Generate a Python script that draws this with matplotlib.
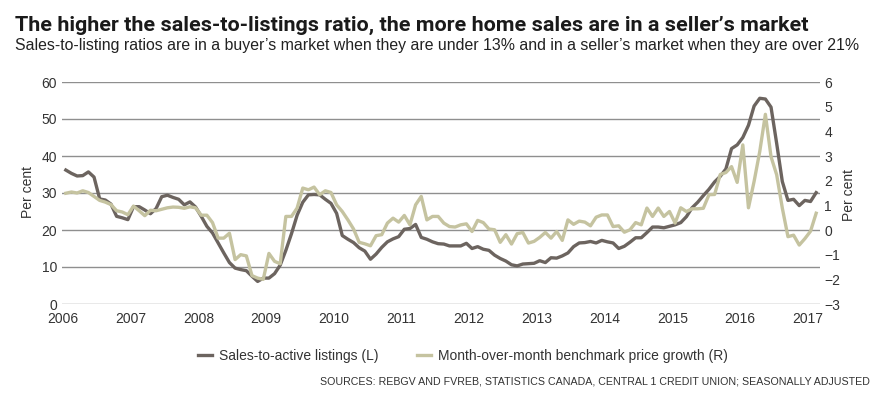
import matplotlib
matplotlib.use("Agg")
import matplotlib.pyplot as plt
import numpy as np

# ---------------- data (monthly, Jan 2006 - Feb 2017) ----------------
sales_ratio = [
    36.2, 35.3, 34.6, 34.7, 35.7, 34.3, 28.4, 28.1, 27.0, 23.7, 23.3, 22.8,   # 2006
    26.3, 26.3, 25.4, 24.4, 25.8, 29.0, 29.4, 28.8, 28.3, 26.8, 27.6, 26.2,   # 2007
    23.7, 21.0, 19.2, 16.5, 13.8, 11.2, 9.7, 9.3, 9.0, 7.5, 6.1, 7.0,         # 2008
    7.0, 8.2, 10.5, 14.5, 19.0, 24.0, 27.5, 29.5, 29.6, 29.5, 28.3, 27.2,     # 2009
    24.5, 18.5, 17.5, 16.6, 15.2, 14.3, 12.1, 13.5, 15.3, 16.8, 17.6, 18.2,   # 2010
    20.2, 20.4, 21.5, 18.0, 17.5, 16.8, 16.3, 16.2, 15.7, 15.7, 15.7, 16.4,   # 2011
    15.0, 15.5, 14.8, 14.5, 13.2, 12.3, 11.6, 10.6, 10.3, 10.8, 10.9, 11.0,   # 2012
    11.7, 11.2, 12.5, 12.4, 13.0, 13.8, 15.5, 16.5, 16.6, 16.9, 16.5, 17.2,   # 2013
    16.8, 16.5, 15.0, 15.6, 16.7, 17.9, 17.9, 19.3, 20.8, 20.8, 20.6, 21.0,   # 2014
    21.4, 22.0, 23.6, 26.0, 27.5, 29.3, 31.0, 33.0, 34.5, 36.5, 42.0, 43.0,   # 2015
    45.0, 48.3, 53.5, 55.6, 55.4, 53.2, 43.4, 33.1, 28.0, 28.3, 26.6, 28.0,   # 2016
    27.7, 30.1,                                                               # 2017
]
price_growth = [
    1.49, 1.54, 1.50, 1.59, 1.52, 1.36, 1.20, 1.13, 1.03, 0.78, 0.73, 0.62,   # 2006
    0.97, 0.78, 0.58, 0.80, 0.78, 0.84, 0.90, 0.93, 0.92, 0.88, 0.94, 0.90,   # 2007
    0.60, 0.60, 0.30, -0.33, -0.33, -0.13, -1.20, -1.00, -1.05, -1.85, -1.95, -2.00,  # 2008
    -0.95, -1.27, -1.37, 0.55, 0.55, 0.89, 1.70, 1.63, 1.74, 1.43, 1.59, 1.52,  # 2009
    1.02, 0.75, 0.41, 0.04, -0.50, -0.56, -0.64, -0.23, -0.19, 0.28, 0.48, 0.32,  # 2010
    0.59, 0.21, 1.02, 1.36, 0.41, 0.55, 0.55, 0.28, 0.14, 0.12, 0.21, 0.25,   # 2011
    -0.06, 0.39, 0.30, 0.04, 0.01, -0.50, -0.19, -0.57, -0.15, -0.10, -0.53, -0.46,  # 2012
    -0.30, -0.10, -0.33, -0.06, -0.42, 0.41, 0.23, 0.36, 0.32, 0.17, 0.52, 0.61,  # 2013
    0.61, 0.14, 0.17, -0.09, 0.01, 0.30, 0.21, 0.89, 0.55, 0.89, 0.55, 0.75,  # 2014
    0.28, 0.90, 0.75, 0.86, 0.86, 0.88, 1.43, 1.44, 2.25, 2.33, 2.57, 1.93,   # 2015
    3.45, 0.90, 1.97, 3.18, 4.69, 2.97, 2.24, 0.89, -0.27, -0.21, -0.61, -0.35,  # 2016
    -0.05, 0.68,                                                              # 2017
]
start_year = 2006
year_ticks = list(range(2006, 2018))
left_ticks = [0, 10, 20, 30, 40, 50, 60]
right_ticks = [-3, -2, -1, 0, 1, 2, 3, 4, 5, 6]
series_labels = ["Sales-to-active listings (L)", "Month-over-month benchmark price growth (R)"]
title = "The higher the sales-to-listings ratio, the more home sales are in a seller\u2019s market"
subtitle = ("Sales-to-listing ratios are in a buyer\u2019s market when they are under 13% "
            "and in a seller\u2019s market when they are over 21%")
source = "SOURCES: REBGV AND FVREB, STATISTICS CANADA, CENTRAL 1 CREDIT UNION; SEASONALLY ADJUSTED"
axis_label = "Per cent"

# ---------------- style ----------------
DARK = "#6c645f"
GREEN = "#c5c3a0"
GRID = "#8f8f8f"
TXT = "#333333"
NARROW = ["Liberation Sans Narrow", "Liberation Sans", "DejaVu Sans"]
REG = ["Liberation Sans", "DejaVu Sans"]
TITLEF = ["Roboto", "Liberation Sans", "DejaVu Sans"]
plt.rcParams["font.family"] = REG

W, H = 886, 399
fig = plt.figure(figsize=(W / 100, H / 100), dpi=100)
fx = lambda px: px / W
fy = lambda py: 1 - py / H

ax = fig.add_axes([fx(62), fy(304), fx(820) - fx(62), fy(82) - fy(304)])
ax2 = ax.twinx()

n = len(sales_ratio)
x = start_year + (np.arange(n) + 0.5) / 12.0

l1, = ax.plot(x, sales_ratio, color=DARK, lw=2.4, solid_joinstyle="round", label=series_labels[0])
l2, = ax2.plot(x, price_growth, color=GREEN, lw=2.4, solid_joinstyle="round", label=series_labels[1])

ax.set_xlim(2006 - 1 / 67.7, 2006 + (820 - 63) / 67.7)
ax.set_ylim(0, 60)
ax2.set_ylim(-3, 6)
ax.set_xticks(year_ticks)
ax.set_yticks(left_ticks)
ax2.set_yticks(right_ticks)
ax.yaxis.grid(True, color=GRID, lw=1.0)
ax.set_axisbelow(True)
for a in (ax, ax2):
    for s in a.spines.values():
        s.set_visible(False)
ax.tick_params(axis="both", length=0, labelsize=10, labelcolor=TXT)
ax.tick_params(axis="y", pad=3.5)
ax.tick_params(axis="x", pad=6)
ax2.tick_params(axis="y", length=0, labelsize=10, labelcolor=TXT, pad=3)

fig.text(fx(28), fy(192), axis_label, rotation=90, ha="center", va="center",
         fontsize=10, color=TXT)
fig.text(fx(849), fy(195), axis_label, rotation=90, ha="center", va="center",
         fontsize=10, color=TXT)

t_title = fig.text(fx(15), fy(31), title, ha="left", va="baseline", fontsize=12.5,
                   fontweight="bold", color="#1a1a1a", family=TITLEF)
t_sub = fig.text(fx(15), fy(50), subtitle, ha="left", va="baseline", fontsize=12,
                 color="#222222", family=NARROW)
t_src = fig.text(fx(870), fy(382), source, ha="right", va="center", fontsize=8,
                 color=TXT, family=NARROW)

renderer = fig.canvas.get_renderer()


def fit(t, target):
    for _ in range(2):
        w = t.get_window_extent(renderer).width
        t.set_fontsize(t.get_fontsize() * target / w)


fit(t_title, 793)
fit(t_sub, 840)
fit(t_src, 544)


def make_legend(fs):
    return fig.legend(handles=[l1, l2], loc="center left",
                      bbox_to_anchor=(fx(198), fy(356)), ncol=2, frameon=False,
                      borderpad=0, borderaxespad=0, handlelength=1.0,
                      handletextpad=0.5, columnspacing=2.8,
                      prop={"family": NARROW, "size": fs}, labelcolor=TXT)


fs = 10.0
leg = make_legend(fs)
for _ in range(2):
    w = leg.get_window_extent(renderer).width
    leg.remove()
    fs = fs * 527 / w
    leg = make_legend(fs)

fig.savefig("out.png", dpi=100)
